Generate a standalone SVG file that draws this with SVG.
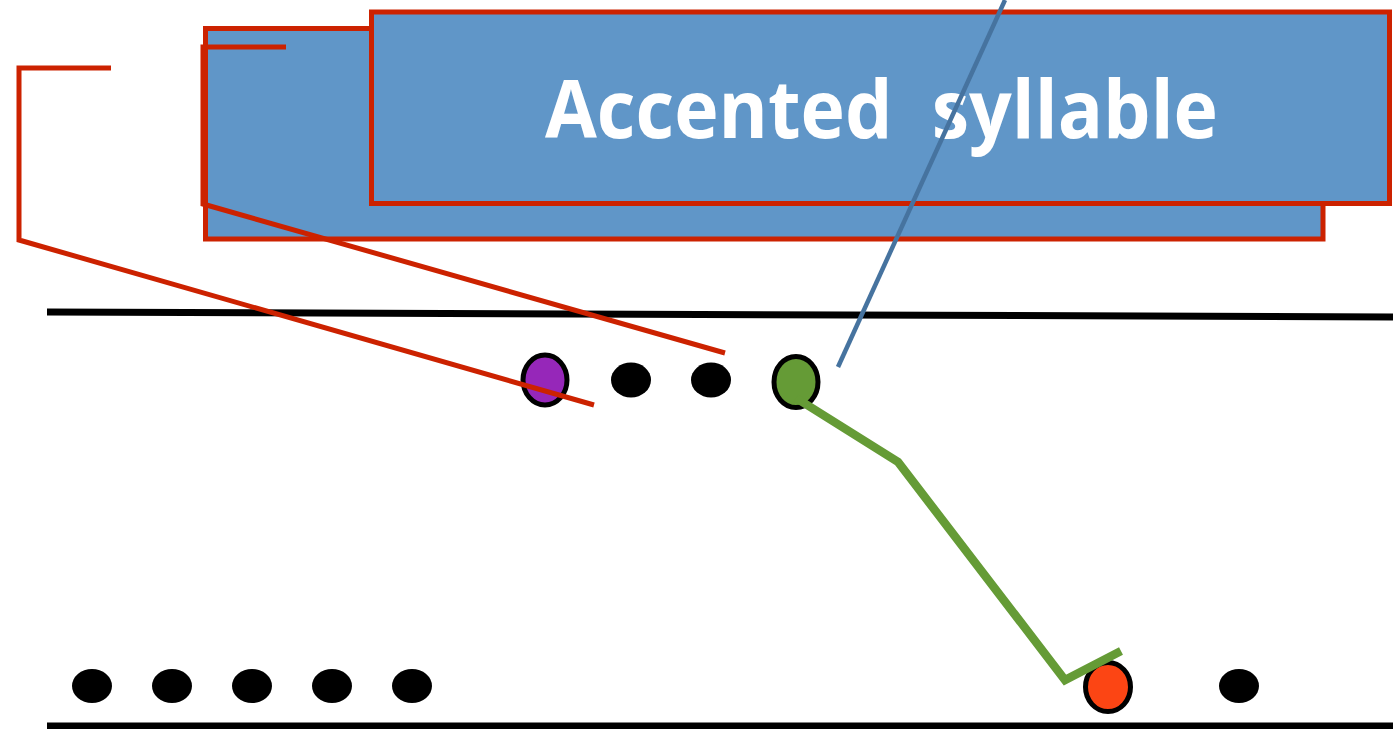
<svg xmlns="http://www.w3.org/2000/svg" width="1393" height="729" viewBox="0 0 1393 729">
<style>
.box{fill:#6096c8;stroke:#cc2200;stroke-width:5}
.red{fill:none;stroke:#cc2200;stroke-width:5}
.rule{stroke:#000;stroke-width:7}
.dot{fill:#000}
.ring{stroke:#000;stroke-width:5}
.lbl{font-family:"Open Sans","Liberation Sans",sans-serif;font-weight:bold;font-size:80px;fill:#fff}
</style>
<rect width="1393" height="729" fill="#fff"/>
<g id="rules">
<line class="rule" x1="47" y1="312" x2="1393" y2="317"/>
<line class="rule" x1="47" y1="726" x2="1393" y2="726"/>
</g>
<g id="back-box"><rect class="box" x="205.5" y="28.5" width="1117.5" height="210.5"/></g>
<g id="front-box">
<rect class="box" x="371.5" y="12" width="1018" height="191.5"/>
<text class="lbl" x="545" y="138" textLength="673" lengthAdjust="spacingAndGlyphs" xml:space="preserve">Accented  syllable</text>
</g>
<g id="top-row">
<ellipse class="ring" cx="545" cy="380" rx="22" ry="25" fill="#9627b9"/>
<ellipse class="dot" cx="631" cy="380" rx="20" ry="17.5"/>
<ellipse class="dot" cx="711" cy="380" rx="20" ry="17.5"/>
<ellipse class="ring" cx="796" cy="382" rx="22" ry="25.5" fill="#659b36"/>
</g>
<g id="bottom-row">
<ellipse class="dot" cx="92" cy="686" rx="20" ry="17"/>
<ellipse class="dot" cx="172" cy="686" rx="20" ry="17"/>
<ellipse class="dot" cx="252" cy="686" rx="20" ry="17"/>
<ellipse class="dot" cx="332" cy="686" rx="20" ry="17"/>
<ellipse class="dot" cx="412" cy="686" rx="20" ry="17"/>
<ellipse class="ring" cx="1108" cy="687" rx="22.5" ry="24.5" fill="#fc4514"/>
<ellipse class="dot" cx="1239" cy="686" rx="20" ry="17"/>
</g>
<g id="connectors">
<polyline class="red" points="111,68 19,68 19,240 594,405"/>
<polyline class="red" points="286,47 203,47 203,204 725,353"/>
<line x1="1005" y1="0" x2="838" y2="367" stroke="#46739f" stroke-width="4.5"/>
<polyline points="796,398 898,462 1065,680 1121,651" fill="none" stroke="#659b36" stroke-width="8.5"/>
</g>
</svg>
